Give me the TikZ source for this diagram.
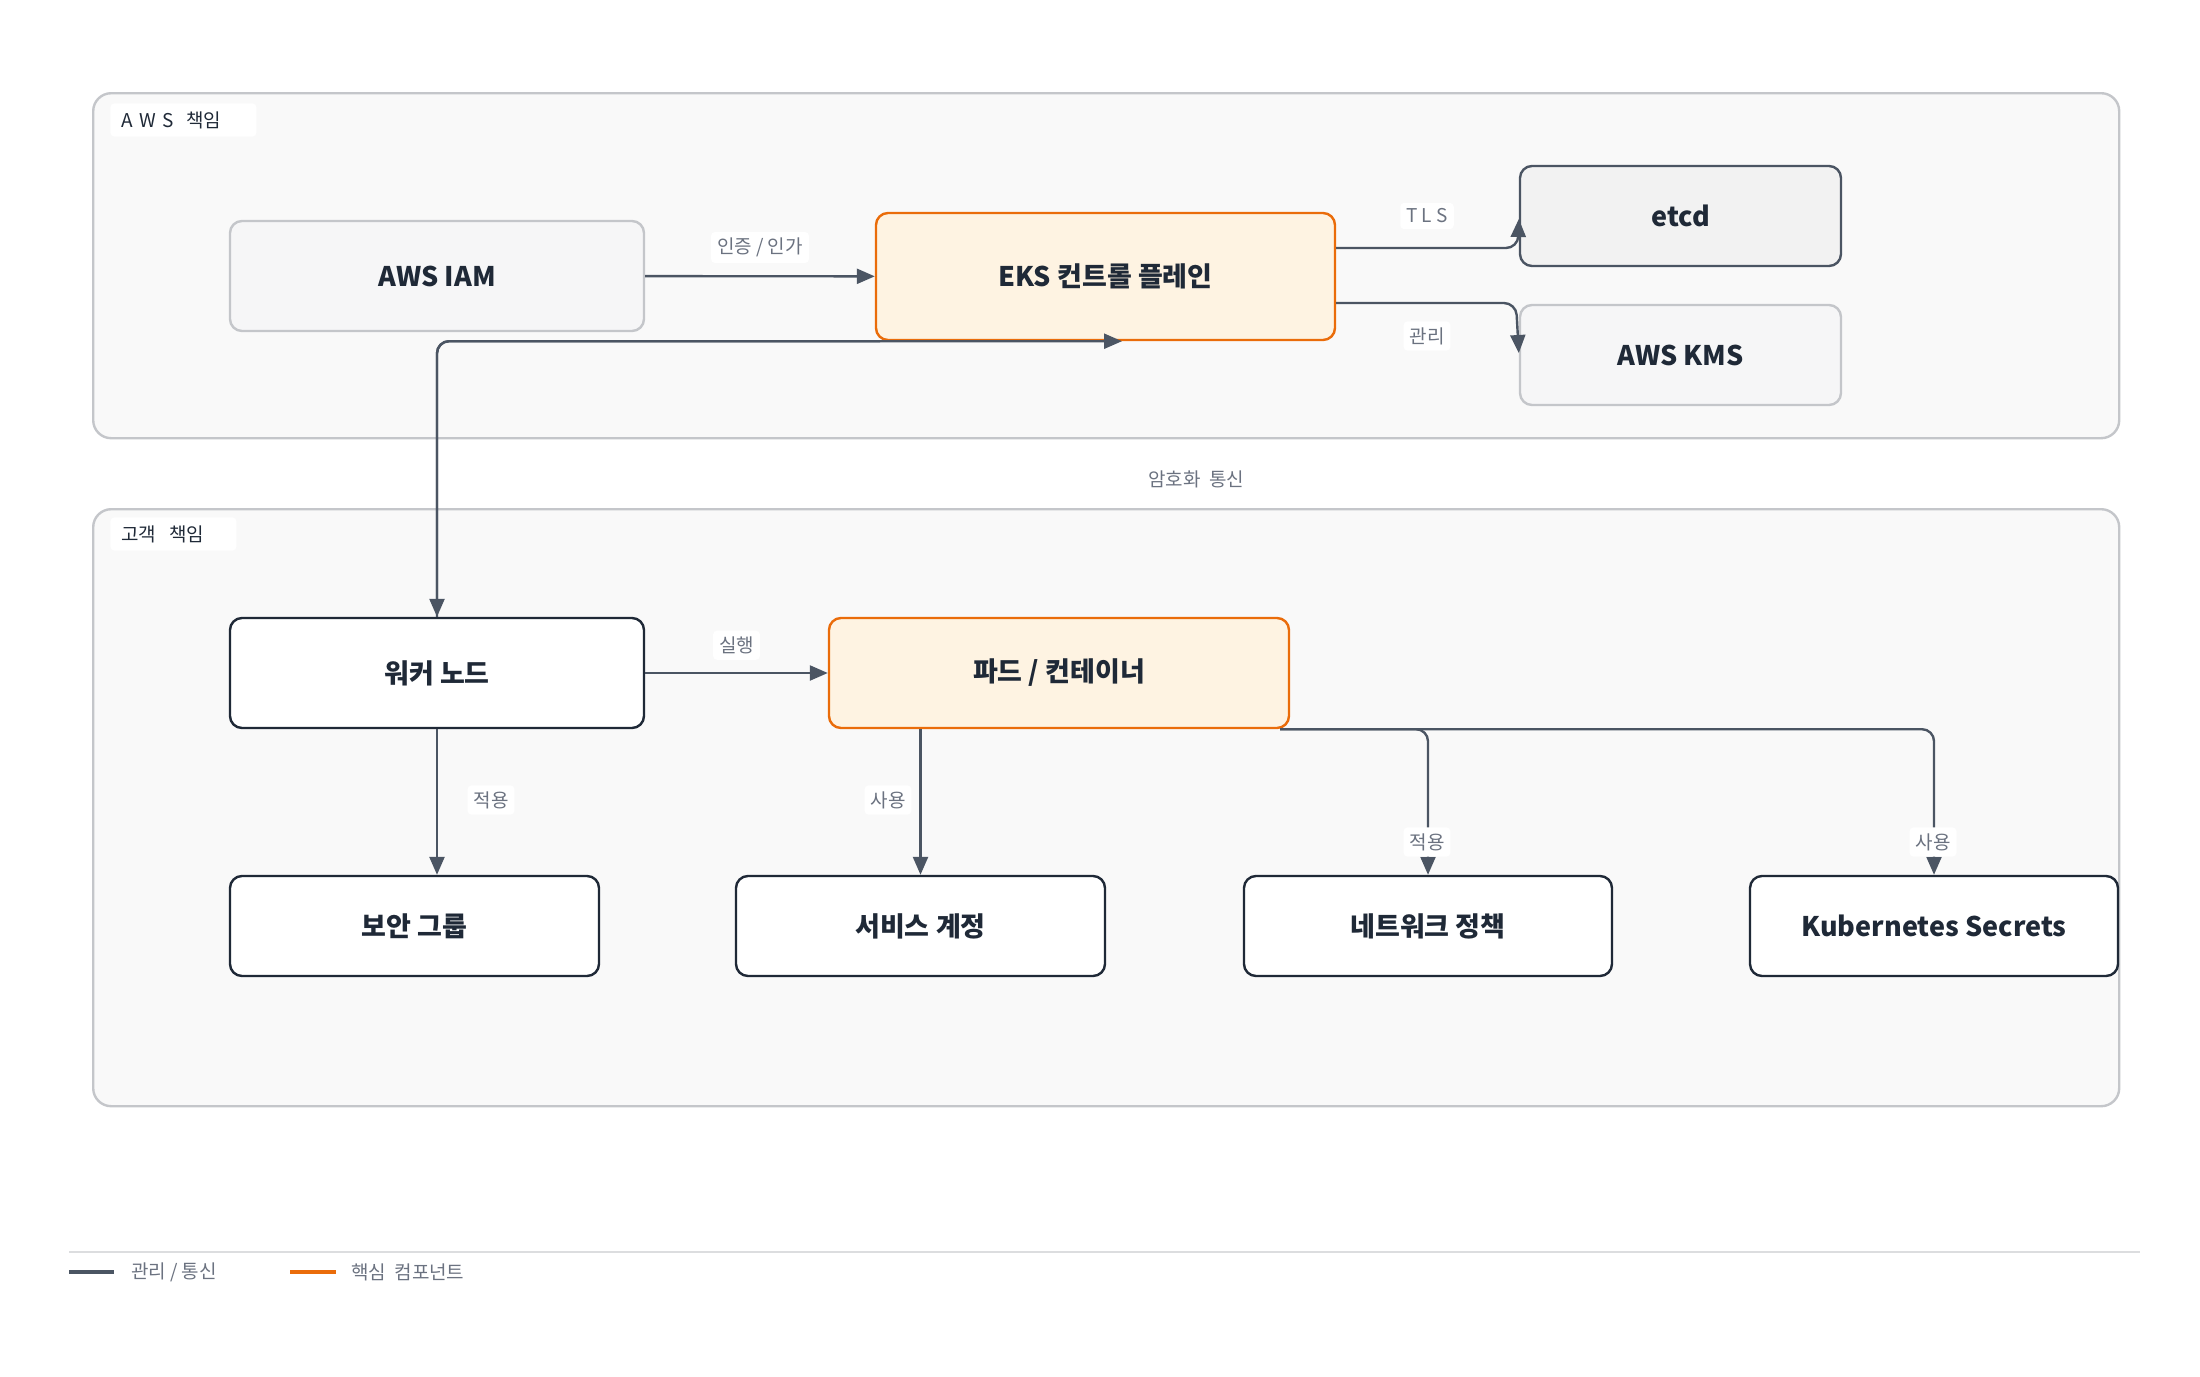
\documentclass[tikz,border=0pt]{standalone}
\usepackage{fontspec}
\setmainfont{Noto Sans CJK KR}
\usetikzlibrary{arrows.meta}
\definecolor{edgeGray}{HTML}{4B5563}
\definecolor{textDark}{HTML}{1F2937}
\definecolor{labelGray}{HTML}{6B7280}
\definecolor{coreOrange}{HTML}{EA6C0A}
\definecolor{coreFill}{HTML}{FEF3E2}
\definecolor{groupFill}{HTML}{F9F9F9}
\definecolor{groupLine}{HTML}{C4C6CA}
\definecolor{boxFill}{HTML}{F6F6F7}
\tikzset{
  group/.style={draw=groupLine, line width=1.2pt, fill=groupFill, rounded corners=9pt, anchor=north west},
  grouplabel/.style={fill=white, rounded corners=2pt, text=textDark, font=\fontsize{9.5}{11}\selectfont, anchor=north west, inner sep=4pt, minimum height=14pt},
  svc/.style={draw=groupLine, line width=1.2pt, fill=boxFill, rounded corners=6pt, text=textDark, font=\fontsize{13.5}{16}\selectfont\bfseries},
  store/.style={svc, draw=edgeGray, fill=gray!10},
  core/.style={svc, draw=coreOrange, fill=coreFill},
  plain/.style={svc, draw=textDark, fill=white},
  flow/.style={-{Triangle[length=9pt,width=7.5pt]}, edgeGray, line width=1.2pt, rounded corners=6pt},
  tag/.style={fill=white, rounded corners=2pt, text=labelGray, font=\fontsize{9.5}{11}\selectfont, inner sep=3pt}
}
\begin{document}
\begin{tikzpicture}[x=0.5pt, y=-0.5pt]
  \useasboundingbox (0,0) rectangle (2200,1376);
  % groups
  \node[group, minimum width=1013pt, minimum height=172.5pt] (awsgrp) at (92,92) {};
  \node[grouplabel, minimum width=73pt, align=left, text width=62pt] (awslbl) at (110,103) {A W S \ 책임};
  \node[group, minimum width=1013pt, minimum height=298.5pt] (custgrp) at (92,508) {};
  \node[grouplabel, minimum width=63pt, align=left, text width=52pt] (custlbl) at (110,517) {고객 \ 책임};

  % AWS side
  \node[svc, minimum width=207pt, minimum height=55pt] (iam) at (437,276) {AWS IAM};
  \node[core, minimum width=229.5pt, minimum height=63.5pt] (eks) at (1105.5,276.5) {EKS 컨트롤 플레인};
  \node[store, minimum width=160.5pt, minimum height=50pt] (etcd) at (1680.5,216) {etcd};
  \node[svc, minimum width=160.5pt, minimum height=50pt] (kms) at (1680.5,355) {AWS KMS};

  % customer side
  \node[plain, minimum width=207pt, minimum height=55pt] (worker) at (437,673) {워커 노드};
  \node[core, minimum width=230pt, minimum height=55pt] (pod) at (1059,673) {파드 / 컨테이너};
  \node[plain, minimum width=184.5pt, minimum height=50pt] (sg) at (414.5,926) {보안 그룹};
  \node[plain, minimum width=184.5pt, minimum height=50pt] (sa) at (920.5,926) {서비스 계정};
  \node[plain, minimum width=184pt, minimum height=50pt] (netpol) at (1428,926) {네트워크 정책};
  \node[plain, minimum width=184pt, minimum height=50pt] (secrets) at (1934,926) {Kubernetes Secrets};

  % connectors
  \draw[flow] (iam) -- (eks) node[tag, pos=0.5, above=6pt] {인증 / 인가};
  \draw[flow] (eks.east |- 0,248) -- (1518,248) -- (etcd.west |- 0,219);
  \node[tag] at (1427,216) {T L S};
  \draw[flow] (eks.east |- 0,303) -- (1516,303) -- (kms.west |- 0,353);
  \node[tag] at (1427,336) {관리};
  \draw[flow] (eks.south -| 880,0) -| (worker.north);
  \draw[flow] (worker.north) |- (eks.south -| 1122,0);
  \node[text=labelGray, font=\fontsize{9.5}{11}\selectfont] at (1196,479) {암호화 \ 통신};
  \draw[flow] (worker) -- (pod) node[tag, pos=0.5, above=6pt] {실행};
  \draw[flow] (worker) -- (sg.north -| worker.south);
  \node[tag] at (491,800) {적용};
  \draw[flow] (pod.south -| sa.north) -- (sa.north);
  \node[tag] at (888,800) {사용};
  \draw[flow] (pod.south -| 1280,0) -| (netpol.north);
  \node[tag] at (1427,842) {적용};
  \draw[flow] (pod.south -| 1280,0) -| (secrets.north);
  \node[tag] at (1933,842) {사용};

  % legend
  \draw[groupLine!60, line width=0.8pt] (69,1252) coordinate (lgl) -- (2140,1252) coordinate (lgr);
  \draw[edgeGray, line width=1.6pt] (69,1272) coordinate (lg1a) -- (114,1272) coordinate (lg1b);
  \node[anchor=west, text=labelGray, font=\fontsize{9.5}{11}\selectfont] (lg1) at (124,1272) {관리 / 통신};
  \draw[coreOrange, line width=1.6pt] (290,1272) coordinate (lg2a) -- (336,1272) coordinate (lg2b);
  \node[anchor=west, text=labelGray, font=\fontsize{9.5}{11}\selectfont] (lg2) at (344,1272) {핵심 \ 컴포넌트};
\end{tikzpicture}
\end{document}
